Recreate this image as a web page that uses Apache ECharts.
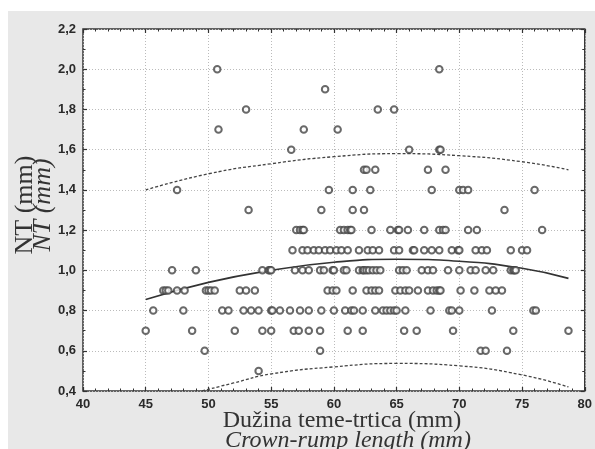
<!DOCTYPE html>
<html>
<head>
<meta charset="utf-8">
<script src="https://cdn.jsdelivr.net/npm/echarts@6/dist/echarts.min.js"></script>
<style>
  body { margin: 0; background: #fff; }
  #main { position: absolute; left: 8px; top: 11px; width: 587px; height: 438px; background: #e8e8e8; }
</style>
</head>
<body>
<div id="main"></div>
<script>
// CRL (mm) values of the points, grouped by their NT level (mm)
const crl_20 = [50.7, 68.4];
const crl_19 = [59.3];
const crl_18 = [53.0, 63.5, 64.8];
const crl_17 = [50.8, 57.6, 60.3];
const crl_16 = [56.6, 66.0, 68.4, 68.5];
const crl_15 = [62.4, 62.6, 63.3, 67.5, 68.9];
const crl_14 = [47.5, 59.6, 61.5, 62.9, 67.8, 70.0, 70.3, 70.7, 76.0];
const crl_13 = [53.2, 59.0, 61.5, 62.4, 73.6];
const crl_12 = [57.0, 57.3, 57.5, 57.6, 60.5, 60.8, 61.1, 61.3, 61.4, 63.0, 64.5, 65.1, 65.2, 65.9,
                67.2, 68.4, 68.7, 68.9, 70.7, 71.4, 76.6];
const crl_11 = [56.7, 57.5, 57.9, 58.4, 58.8, 59.3, 59.7, 60.2, 60.6, 61.1, 62.0, 62.7, 63.1, 63.6,
                64.8, 65.2, 66.3, 66.4, 67.2, 67.8, 68.4, 69.4, 69.9, 70.0, 71.3, 71.8, 72.2, 74.1,
                75.0, 75.4];
const crl_10 = [47.1, 49.0, 54.3, 54.8, 54.9, 55.0, 56.9, 57.5, 58.0, 58.9, 59.2, 59.9, 60.0, 60.8,
                61.0, 62.0, 62.3, 62.4, 62.6, 62.8, 63.1, 63.4, 63.7, 65.2, 65.5, 65.8, 67.0, 67.5,
                67.9, 69.1, 70.0, 70.9, 71.3, 72.1, 72.7, 74.1, 74.3, 74.4, 74.5];
const crl_09 = [46.4, 46.6, 46.8, 47.5, 48.1, 49.8, 50.0, 50.2, 50.5, 52.5, 53.0, 53.7, 59.5, 59.9,
                60.2, 61.5, 62.6, 63.0, 63.3, 63.6, 64.9, 65.3, 65.7, 66.0, 66.7, 67.5, 67.9, 68.2,
                68.4, 68.5, 70.1, 71.2, 72.4, 72.9, 73.4];
const crl_08 = [45.6, 48.0, 51.1, 51.6, 52.8, 53.4, 54.0, 55.0, 55.1, 55.7, 56.5, 57.3, 58.0, 59.0,
                60.0, 60.9, 61.4, 61.6, 62.3, 63.3, 63.9, 64.2, 64.5, 64.8, 65.0, 65.7, 67.7, 69.2,
                69.4, 70.0, 72.6, 75.9, 76.1];
const crl_07 = [45.0, 48.7, 52.1, 54.3, 55.0, 56.8, 57.2, 58.0, 58.9, 61.1, 62.3, 65.6, 66.6, 69.5,
                74.3, 78.7];
const crl_06 = [49.7, 58.9, 71.7, 72.1, 73.8];
const crl_05 = [54.0];

const ntLevels = [2.0, 1.9, 1.8, 1.7, 1.6, 1.5, 1.4, 1.3, 1.2, 1.1, 1.0, 0.9, 0.8, 0.7, 0.6, 0.5];
const crlGroups = [crl_20, crl_19, crl_18, crl_17, crl_16, crl_15, crl_14, crl_13, crl_12,
                   crl_11, crl_10, crl_09, crl_08, crl_07, crl_06, crl_05];

// fitted curve and its bands
const fitX = [45, 50, 55, 60, 65, 70, 75, 78.7];
const fitY = [0.855, 0.94, 1.0, 1.04, 1.055, 1.045, 1.01, 0.96];
const upperY = [1.40, 1.48, 1.53, 1.565, 1.58, 1.57, 1.54, 1.50];
const lowerX = [49.5, 52, 55, 60, 65, 70, 75, 78.7];
const lowerY = [0.40, 0.44, 0.485, 0.52, 0.537, 0.525, 0.48, 0.42];

const xTicks = [40, 45, 50, 55, 60, 65, 70, 75, 80];
const yTicks = ['0,4', '0,6', '0,8', '1,0', '1,2', '1,4', '1,6', '1,8', '2,0', '2,2'];

const points = [];
ntLevels.forEach((nt, i) => crlGroups[i].forEach(x => points.push([x, nt])));
const zip = (xs, ys) => xs.map((x, i) => [x, ys[i]]);

const tickStyle = { inside: true, length: 4, lineStyle: { color: '#333', width: 1.2 } };
const minorStyle = { show: true, length: 2.5, lineStyle: { color: '#333', width: 1 } };
const labelStyle = { color: '#2a2a2a', fontSize: 13, fontFamily: 'Liberation Sans', fontWeight: 'bold' };

const chart = echarts.init(document.getElementById('main'));
chart.setOption({
  animation: false,
  grid: { left: 75, right: 7, top: 18, bottom: 58, show: true, backgroundColor: '#fff',
          borderColor: '#333', borderWidth: 1.5 },
  xAxis: [
    { type: 'value', min: 40, max: 80, interval: 5,
      axisLine: { show: false }, axisTick: tickStyle, minorTick: Object.assign({ splitNumber: 5 }, minorStyle),
      axisLabel: Object.assign({ margin: 7, formatter: v => String(xTicks[Math.round((v - 40) / 5)]) }, labelStyle),
      splitLine: { show: true, lineStyle: { color: '#bbb', type: [1, 2], width: 1 } } },
    { type: 'value', position: 'top', min: 40, max: 80, interval: 5,
      axisLine: { show: false }, axisTick: tickStyle, minorTick: Object.assign({ splitNumber: 5 }, minorStyle),
      axisLabel: { show: false }, splitLine: { show: false } }
  ],
  yAxis: [
    { type: 'value', min: 0.4, max: 2.2, interval: 0.2,
      axisLine: { show: false }, axisTick: tickStyle, minorTick: Object.assign({ splitNumber: 2 }, minorStyle),
      axisLabel: Object.assign({ margin: 7, formatter: v => yTicks[Math.round((v - 0.4) / 0.2)] }, labelStyle),
      splitLine: { show: true, lineStyle: { color: '#bbb', type: [1, 2], width: 1 } } },
    { type: 'value', position: 'right', min: 0.4, max: 2.2, interval: 0.2,
      axisLine: { show: false }, axisTick: tickStyle, minorTick: Object.assign({ splitNumber: 2 }, minorStyle),
      axisLabel: { show: false }, splitLine: { show: false } }
  ],
  series: [
    { type: 'scatter', data: points, symbol: 'emptyCircle', symbolSize: 6.5, z: 3,
      itemStyle: { color: '#444', borderColor: '#444', borderWidth: 1.3 } },
    { type: 'line', data: zip(fitX, fitY), smooth: true, showSymbol: false,
      lineStyle: { color: '#333', width: 1.6 } },
    { type: 'line', data: zip(fitX, upperY), smooth: true, showSymbol: false,
      lineStyle: { color: '#444', width: 1.3, type: [3, 2] } },
    { type: 'line', data: zip(lowerX, lowerY), smooth: true, showSymbol: false,
      lineStyle: { color: '#444', width: 1.3, type: [3, 2] } }
  ],
  graphic: [
    { type: 'text', x: 17, y: 194, rotation: Math.PI / 2,
      style: { text: 'NT (mm)', font: '26px "Liberation Serif"', fill: '#333', align: 'center', verticalAlign: 'middle' } },
    { type: 'text', x: 35, y: 194, rotation: Math.PI / 2,
      style: { text: 'NT (mm)', font: 'italic 26px "Liberation Serif"', fill: '#333', align: 'center', verticalAlign: 'middle' } },
    { type: 'text', x: 334, y: 410,
      style: { text: 'Dužina teme-trtica (mm)', font: '24px "Liberation Serif"', fill: '#333', align: 'center', verticalAlign: 'middle' } },
    { type: 'text', x: 340, y: 430,
      style: { text: 'Crown-rump length (mm)', font: 'italic 24px "Liberation Serif"', fill: '#333', align: 'center', verticalAlign: 'middle' } }
  ]
});
</script>
</body>
</html>
